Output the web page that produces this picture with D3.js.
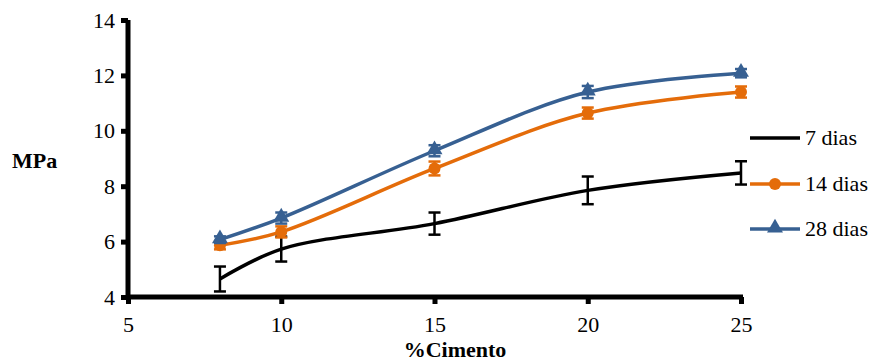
<html>
  <head>
    <script src="https://d3js.org/d3.v7.min.js"></script>
  </head>
  <body style="margin:0">
    <svg width="885" height="363" font-family="Times New Roman, Liberation Serif, serif"></svg>
    <script>
      // data
      var cimento = [8, 10, 15, 20, 25];
      var dias7 = [4.65, 5.73, 6.65, 7.85, 8.48];
      var err7 = [0.45, 0.45, 0.4, 0.5, 0.42];
      var dias14 = [5.87, 6.35, 8.64, 10.64, 11.4];
      var err14 = [0.15, 0.2, 0.25, 0.2, 0.2];
      var dias28 = [6.07, 6.85, 9.28, 11.4, 12.08];
      var err28 = [0.12, 0.2, 0.2, 0.22, 0.15];
      var xTicks = [5, 10, 15, 20, 25];
      var yTicks = [4, 6, 8, 10, 12, 14];

      var series = [
        { name: "7 dias", values: dias7, err: err7, color: "#000000", marker: "none" },
        { name: "14 dias", values: dias14, err: err14, color: "#E46C0A", marker: "circle" },
        { name: "28 dias", values: dias28, err: err28, color: "#376092", marker: "triangle" }
      ];

      var FONT = "Times New Roman, Liberation Serif, serif";
      var svg = d3.select("svg");
      var x = d3.scaleLinear().domain([5, 25]).range([128, 741]);
      var y = d3.scaleLinear().domain([4, 14]).range([297, 20]);

      // y axis
      var yAxis = svg.append("g").attr("transform", "translate(128,0)")
        .call(d3.axisLeft(y).tickValues(yTicks).tickSize(7).tickPadding(6));
      yAxis.attr("font-family", FONT).attr("font-size", 22);
      yAxis.select(".domain").attr("stroke", "#000").attr("stroke-width", 5).attr("d", "M0,299V20");
      yAxis.selectAll(".tick line").attr("stroke", "#000").attr("stroke-width", 5);
      yAxis.selectAll(".tick text").attr("font-family", FONT).attr("font-size", 22).attr("fill", "#000");

      // x axis
      var xAxis = svg.append("g").attr("transform", "translate(0,297)")
        .call(d3.axisBottom(x).tickValues(xTicks).tickSize(7).tickPadding(12));
      xAxis.attr("font-family", FONT).attr("font-size", 22);
      xAxis.select(".domain").attr("stroke", "#000").attr("stroke-width", 5).attr("d", "M126,0H743");
      xAxis.selectAll(".tick line").attr("stroke", "#000").attr("stroke-width", 5);
      xAxis.selectAll(".tick text").attr("font-family", FONT).attr("font-size", 22).attr("fill", "#000");

      svg.append("text").attr("x", 12).attr("y", 168).attr("font-family", FONT)
        .attr("font-size", 22).attr("font-weight", "bold").text("MPa");
      svg.append("text").attr("x", 455).attr("y", 357).attr("text-anchor", "middle").attr("font-family", FONT)
        .attr("font-size", 22).attr("font-weight", "bold").text("%Cimento");

      var line = d3.line()
        .x(function(d){ return x(d[0]); })
        .y(function(d){ return y(d[1]); })
        .curve(d3.curveCatmullRom.alpha(0.5));

      var tri = d3.symbol().type(d3.symbolTriangle).size(110);

      series.forEach(function(s){
        var pts = cimento.map(function(c, i){ return [c, s.values[i], s.err[i]]; });
        var g = svg.append("g");

        g.append("path").datum(pts).attr("d", line)
          .attr("fill", "none").attr("stroke", s.color).attr("stroke-width", 3.5);

        // error bars
        var eb = g.selectAll(".eb").data(pts).enter().append("g");
        eb.append("line")
          .attr("x1", function(d){ return x(d[0]); }).attr("x2", function(d){ return x(d[0]); })
          .attr("y1", function(d){ return y(d[1] + d[2]); }).attr("y2", function(d){ return y(d[1] - d[2]); })
          .attr("stroke", s.color).attr("stroke-width", 2.5);
        [1, -1].forEach(function(sign){
          eb.append("line")
            .attr("x1", function(d){ return x(d[0]) - 6; }).attr("x2", function(d){ return x(d[0]) + 6; })
            .attr("y1", function(d){ return y(d[1] + sign * d[2]); })
            .attr("y2", function(d){ return y(d[1] + sign * d[2]); })
            .attr("stroke", s.color).attr("stroke-width", 2.5);
        });

        if (s.marker == "circle") {
          g.selectAll(".m").data(pts).enter().append("circle")
            .attr("cx", function(d){ return x(d[0]); }).attr("cy", function(d){ return y(d[1]); })
            .attr("r", 6).attr("fill", s.color);
        } else if (s.marker == "triangle") {
          g.selectAll(".m").data(pts).enter().append("path")
            .attr("d", tri)
            .attr("transform", function(d){ return "translate(" + x(d[0]) + "," + (y(d[1]) - 1) + ")"; })
            .attr("fill", s.color);
        }
      });

      // legend
      var legY = [138, 184, 229];
      series.forEach(function(s, i){
        var lg = svg.append("g").attr("transform", "translate(0," + legY[i] + ")");
        lg.append("line").attr("x1", 750).attr("x2", 800).attr("y1", 0).attr("y2", 0)
          .attr("stroke", s.color).attr("stroke-width", 3.5);
        if (s.marker == "circle") {
          lg.append("circle").attr("cx", 775).attr("cy", 0).attr("r", 6).attr("fill", s.color);
        } else if (s.marker == "triangle") {
          lg.append("path").attr("d", tri).attr("transform", "translate(775,-1)").attr("fill", s.color);
        }
        lg.append("text").attr("x", 805).attr("y", 7).attr("font-family", FONT)
          .attr("font-size", 22).text(s.name);
      });
    </script>
  </body>
</html>
